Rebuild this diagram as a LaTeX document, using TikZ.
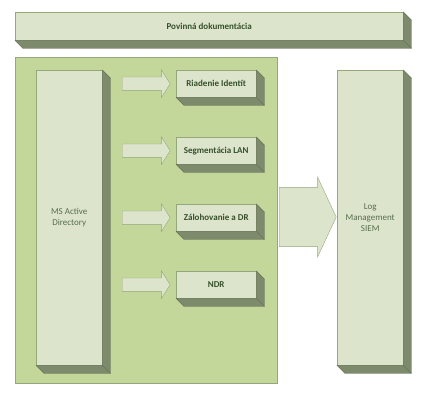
\documentclass[tikz,border=0pt]{standalone}
\usepackage{fontspec}
\setmainfont{Carlito}
\usetikzlibrary{shapes.arrows}
\definecolor{face}{HTML}{DDE4CC}
\definecolor{panel}{HTML}{C4D79B}
\definecolor{side}{HTML}{7D8A6C}
\definecolor{rim}{HTML}{94A87A}
\definecolor{ink}{HTML}{35502B}
\tikzset{
  slab/.style={draw=rim, fill=face, anchor=north west, inner sep=0pt, align=center,
    text=ink!80!face, font=\fontsize{9}{11}\selectfont},
  label/.style={slab, text=ink, font=\fontsize{9}{11}\selectfont\bfseries},
  push/.style={single arrow, draw=rim, fill=face, inner sep=0pt, anchor=west,
    single arrow head indent=0pt}
}
\begin{document}
\begin{tikzpicture}[x=1pt, y=-1pt]
      \useasboundingbox (0,0) rectangle (435,400);
      \node[draw=rim, fill=panel, anchor=north west, minimum width=262pt, minimum height=326pt] (panel) at (15,57) {};
      \draw
        (15,12) node[label, minimum width=388pt, minimum height=28pt] (top){Povinná dokumentácia}
        (36,70) node[slab, minimum width=66pt, minimum height=295pt] (ad){MS Active\\Directory}
        (176,70) node[label, minimum width=80pt, minimum height=27pt] (ri){Riadenie Identít}
        (176,137) node[label, minimum width=80pt, minimum height=27pt] (seg){Segmentácia LAN}
        (176,204) node[label, minimum width=80pt, minimum height=27pt] (zal){Zálohovanie a DR}
        (176,271) node[label, minimum width=80pt, minimum height=27pt] (ndr){NDR}
        (337,70) node[slab, minimum width=66pt, minimum height=295pt] (log){Log\\Management\\SIEM};
      % extruded sides
      \foreach \n in {top,ad,ri,seg,zal,ndr,log}
        \filldraw[fill=side, draw=side!70!black, line width=0.3pt]
          (\n.north east) -- ++(8,8) -- ([shift={(8,8)}]\n.south east)
          -- ([shift={(8,8)}]\n.south west) -- (\n.south west) -- (\n.south east) -- cycle
          (\n.south east) -- ++(8,8);
      % block arrows
      \foreach \n in {ri,seg,zal,ndr}
        \node[push, minimum height=48pt, minimum width=27pt, inner ysep=6.5pt,
          single arrow tip angle=115] (a\n) at (122,0 |- \n.west) {};
      \node[push, minimum height=57pt, minimum width=80pt, inner ysep=20pt,
        single arrow tip angle=130] (big) at (279,217) {};
\end{tikzpicture}
\end{document}
